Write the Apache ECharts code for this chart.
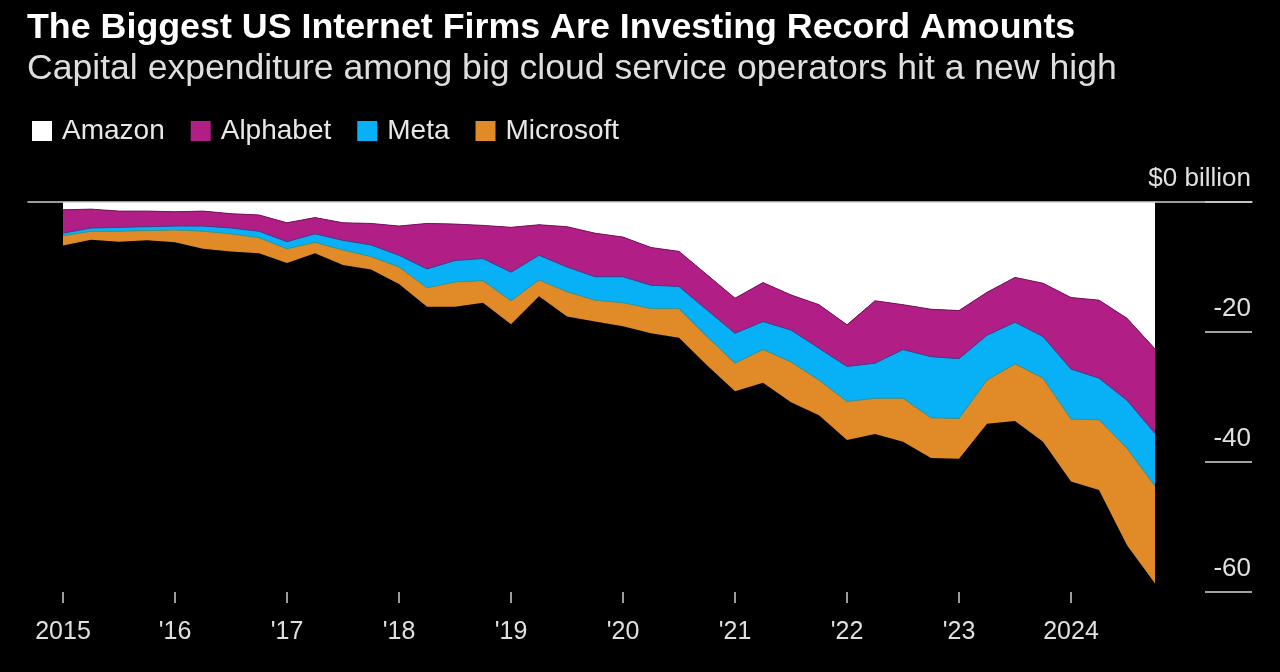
<!DOCTYPE html>
<html>
<head>
<meta charset="utf-8">
<script src="https://cdn.jsdelivr.net/npm/echarts@6/dist/echarts.min.js"></script>
<style>
  html, body { margin: 0; padding: 0; background: #000; }
  #chart { width: 1280px; height: 672px; }
</style>
</head>
<body>
<div id="chart"></div>
<script>
// Quarterly capital expenditure, $ billion (drawn downward, as negative values)
const quarters = [
  'Q4 2014','Q1 2015','Q2 2015','Q3 2015','Q4 2015','Q1 2016','Q2 2016','Q3 2016',
  'Q4 2016','Q1 2017','Q2 2017','Q3 2017','Q4 2017','Q1 2018','Q2 2018','Q3 2018',
  'Q4 2018','Q1 2019','Q2 2019','Q3 2019','Q4 2019','Q1 2020','Q2 2020','Q3 2020',
  'Q4 2020','Q1 2021','Q2 2021','Q3 2021','Q4 2021','Q1 2022','Q2 2022','Q3 2022',
  'Q4 2022','Q1 2023','Q2 2023','Q3 2023','Q4 2023','Q1 2024','Q2 2024','Q3 2024'
];
const tickLabels = ['2015', "'16", "'17", "'18", "'19", "'20", "'21", "'22", "'23", '2024'];

const amazon = [-1.2,-1.1,-1.4,-1.4,-1.5,-1.4,-1.8,-2.0,-3.2,-2.4,-3.2,-3.3,-3.7,-3.3,-3.4,-3.6,-3.9,-3.5,-3.8,-4.8,-5.4,-7.0,-7.6,-11.2,-14.8,-12.4,-14.3,-15.8,-18.9,-15.2,-15.8,-16.5,-16.7,-13.9,-11.6,-12.5,-14.7,-15.1,-17.9,-22.6];
const alphabet = [-3.6,-2.9,-2.5,-2.4,-2.2,-2.3,-2.2,-2.5,-2.9,-2.5,-2.7,-3.3,-4.5,-7.0,-5.6,-5.1,-6.9,-4.7,-6.2,-6.7,-6.1,-5.8,-5.4,-5.4,-5.4,-6.0,-5.4,-6.7,-6.4,-9.6,-6.9,-7.3,-7.4,-6.6,-6.9,-8.2,-11.0,-12.0,-12.6,-13.0];
const meta = [-0.4,-0.5,-0.6,-0.6,-0.6,-0.8,-0.9,-1.0,-1.1,-1.3,-1.5,-1.8,-1.8,-2.9,-3.3,-3.4,-4.4,-3.8,-3.8,-3.6,-4.0,-3.6,-3.4,-4.1,-4.6,-4.3,-4.9,-4.9,-5.4,-5.4,-7.5,-9.4,-9.2,-6.9,-6.4,-6.4,-7.7,-6.4,-7.4,-8.1];
const microsoft = [-1.5,-1.3,-1.6,-1.5,-1.9,-2.7,-2.7,-2.4,-2.2,-1.7,-2.3,-2.0,-2.6,-2.9,-3.8,-3.4,-3.6,-2.5,-3.8,-3.3,-3.6,-3.8,-4.5,-4.4,-4.3,-5.1,-6.2,-5.4,-5.9,-5.5,-6.7,-6.2,-6.2,-6.7,-8.8,-9.8,-9.6,-10.8,-14.9,-15.0];

const seriesNames = ['Amazon', 'Alphabet', 'Meta', 'Microsoft'];
const seriesData = [amazon, alphabet, meta, microsoft];
const fills = ['#ffffff', '#B01E86', '#08B0F5', '#E08B28'];
const edges = ['#7a1460', '#4a3d8c', '#3b9890', '#E08B28'];

const chart = echarts.init(document.getElementById('chart'), null, { renderer: 'canvas' });

const option = {
  backgroundColor: '#000000',
  animation: false,
  color: fills,
  title: [
    {
      text: 'The Biggest US Internet Firms Are Investing Record Amounts',
      left: 27, top: 10, padding: 0,
      textStyle: { color: '#ffffff', fontSize: 35.8, fontWeight: 'bold', fontFamily: 'Liberation Sans', lineHeight: 36 }
    },
    {
      text: 'Capital expenditure among big cloud service operators hit a new high',
      left: 27, top: 52, padding: 0,
      textStyle: { color: '#dedede', fontSize: 35.6, fontWeight: 'normal', fontFamily: 'Liberation Sans', lineHeight: 35 }
    }
  ],
  legend: {
    data: seriesNames,
    left: 32, top: 117, padding: 0,
    icon: 'rect', itemWidth: 20, itemHeight: 20, itemGap: 26,
    selectedMode: false,
    textStyle: { color: '#e8e8e8', fontSize: 28, fontFamily: 'Liberation Sans', padding: [0, 0, 0, 5] }
  },
  grid: [
    { left: 63, right: 125, top: 202, bottom: 80 },
    { left: 28, right: 28, top: 202, bottom: 80 }
  ],
  xAxis: [
    {
      type: 'category', gridIndex: 0, data: quarters, boundaryGap: false, position: 'bottom',
      axisLine: { show: false, onZero: false },
      axisTick: { show: true, length: 11, interval: (i) => i % 4 === 0, lineStyle: { color: '#d0d0d0', width: 1.5 } },
      axisLabel: {
        interval: (i) => i % 4 === 0,
        formatter: (v, i) => tickLabels[i / 4],
        color: '#e0e0e0', fontSize: 25, fontFamily: 'Liberation Sans', margin: 28
      },
      splitLine: { show: false }
    },
    {
      type: 'value', gridIndex: 1, position: 'top', min: 0, max: 1, z: 10,
      axisLine: { show: true, onZero: false, lineStyle: { color: '#cfcfcf', width: 1.5 } },
      axisTick: { show: false }, axisLabel: { show: false }, splitLine: { show: false }
    }
  ],
  yAxis: [
    {
      type: 'value', gridIndex: 0, position: 'right', offset: 50,
      min: -60, max: 0, interval: 20,
      axisLine: { show: false, onZero: false },
      axisTick: { show: true, length: 47, lineStyle: { color: '#d8d8d8', width: 1.5 } },
      axisLabel: {
        align: 'right', verticalAlign: 'bottom', margin: 46, padding: [0, 0, 10, 0],
        color: '#e0e0e0', fontSize: 26, fontFamily: 'Liberation Sans',
        formatter: (v) => v === 0 ? '$0 billion' : String(v)
      },
      splitLine: { show: false }
    },
    {
      type: 'value', gridIndex: 1, min: 0, max: 1, show: false
    }
  ],
  series: seriesData.map((d, k) => ({
    name: seriesNames[k],
    type: 'line',
    stack: 'capex',
    data: d,
    symbol: 'none',
    xAxisIndex: 0, yAxisIndex: 0,
    lineStyle: { color: edges[k], width: k === 3 ? 0 : 1 },
    itemStyle: { color: fills[k] },
    areaStyle: { color: fills[k], opacity: 1 }
  }))
};

chart.setOption(option);
</script>
</body>
</html>
